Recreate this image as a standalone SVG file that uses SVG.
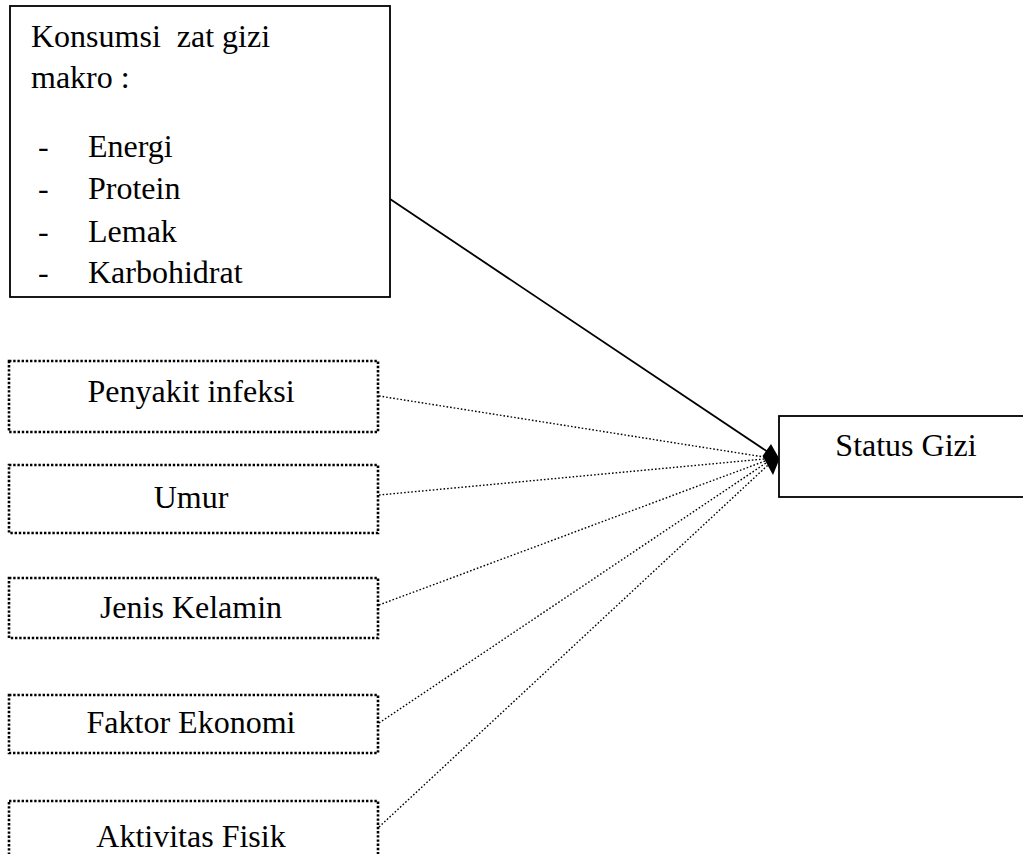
<svg xmlns="http://www.w3.org/2000/svg" width="1023" height="854" viewBox="0 0 1023 854">
<style>
text{font-family:'Liberation Serif','DejaVu Serif',serif;font-size:32px;fill:#000}
.c{text-anchor:middle}
.solid{fill:#fff;stroke:#000;stroke-width:1.8}
.dot{fill:#fff;stroke:#000;stroke-width:2.6;stroke-dasharray:2.4 1.8}
.dl{fill:none;stroke:#000;stroke-width:1.4;stroke-dasharray:1.6 2}
</style>
<rect width="1023" height="854" fill="#fff"/>
<g id="connectors">
<line x1="390" y1="199" x2="768" y2="452" stroke="#000" stroke-width="1.8"/>
<line class="dl" x1="379" y1="396" x2="764" y2="457"/>
<line class="dl" x1="379" y1="495" x2="764" y2="459"/>
<line class="dl" x1="379" y1="605" x2="765" y2="461"/>
<line class="dl" x1="379" y1="723" x2="766" y2="463"/>
<line class="dl" x1="379" y1="827" x2="768" y2="465"/>
<polygon points="771,444 779.5,459 773,475 762.5,456" fill="#000"/>
</g>
<g font-family="Liberation Serif, DejaVu Serif, serif" font-size="32">
<g id="konsumsi">
<rect class="solid" x="10" y="6" width="380" height="291"/>
<text x="31" y="47" xml:space="preserve">Konsumsi  zat gizi</text>
<text x="31" y="88">makro :</text>
<text x="38" y="157">-</text><text x="88" y="157">Energi</text>
<text x="38" y="199">-</text><text x="88" y="199">Protein</text>
<text x="38" y="242">-</text><text x="88" y="242">Lemak</text>
<text x="38" y="283">-</text><text x="88" y="283">Karbohidrat</text>
</g>
<g id="penyakit">
<rect class="dot" x="9" y="361" width="369" height="71"/>
<text class="c" x="191" y="402">Penyakit infeksi</text>
</g>
<g id="umur">
<rect class="dot" x="9" y="465" width="369" height="68"/>
<text class="c" x="191" y="508">Umur</text>
</g>
<g id="jenis">
<rect class="dot" x="9" y="578" width="369" height="60"/>
<text class="c" x="191" y="618">Jenis Kelamin</text>
</g>
<g id="faktor">
<rect class="dot" x="9" y="695" width="369" height="58"/>
<text class="c" x="191" y="733">Faktor Ekonomi</text>
</g>
<g id="aktivitas">
<rect class="dot" x="9" y="801" width="369" height="80"/>
<text class="c" x="191" y="847">Aktivitas Fisik</text>
</g>
<g id="status">
<rect class="solid" x="779" y="416" width="260" height="81"/>
<text class="c" x="906" y="456">Status Gizi</text>
</g>
</g>
</svg>
